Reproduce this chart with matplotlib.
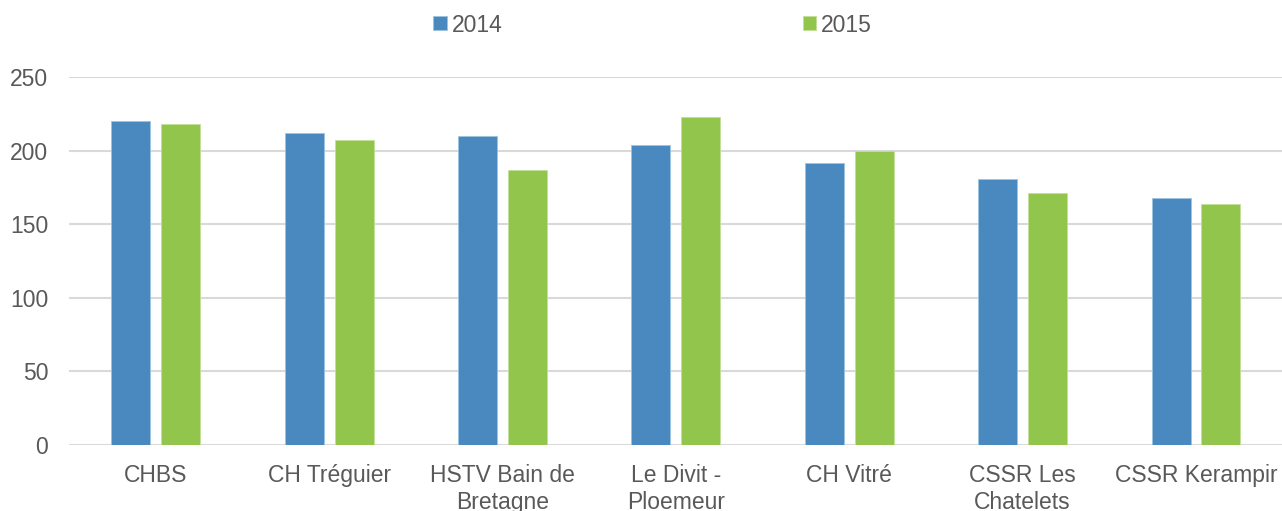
import matplotlib
matplotlib.use("Agg")
import matplotlib.pyplot as plt
import numpy as np

categories = ["CHBS", "CH Tréguier", "HSTV Bain de\nBretagne", "Le Divit -\nPloemeur",
              "CH Vitré", "CSSR Les\nChatelets", "CSSR Kerampir"]
series_names = ["2014", "2015"]
values_2014 = [220, 212, 210, 203.5, 191.5, 180.5, 167.5]
values_2015 = [218, 207, 187, 223, 200, 171, 164]
yticks = [0, 50, 100, 150, 200, 250]

blue = "#4A89BF"
green = "#92C54B"
text_col = "#595959"
grid_col = "#D9D9D9"

plt.rcParams['font.family'] = ['Liberation Sans', 'DejaVu Sans']
FS = 16.5

fig = plt.figure(figsize=(12.82, 5.11), dpi=100)
ax = fig.add_axes([69/1282, 1-445/511, (1282.7-69)/1282, (445-77)/511])

x = np.arange(len(categories))
w = 0.225
off = 0.144
ax.bar(x - off, values_2014, width=w, color=blue, edgecolor="#9CC3E0", linewidth=0.6, label=series_names[0], zorder=3)
ax.bar(x + off, values_2015, width=w, color=green, edgecolor="#C3E09A", linewidth=0.6, label=series_names[1], zorder=3)

ax.set_xlim(-0.5, len(categories) - 0.5)
ax.set_ylim(0, 250)
ax.set_yticks(yticks)
ax.set_yticklabels([str(t) for t in yticks])
ax.set_xticks(x)
ax.set_xticklabels(categories, linespacing=1.2)
ax.tick_params(axis='both', length=0, labelsize=FS, colors=text_col)
ax.tick_params(axis='y', pad=15)
ax.tick_params(axis='x', pad=14)
ax.yaxis.grid(True, color=grid_col, linewidth=1.5, zorder=0)
ax.set_axisbelow(True)
for s in ax.spines.values():
    s.set_visible(False)

leg = fig.legend(loc='center', bbox_to_anchor=(652.5/1282, 1-25/511), ncol=2, frameon=False,
                 fontsize=FS, handlelength=0.57, handleheight=0.57, handletextpad=0.22,
                 columnspacing=13.1, borderpad=0)
for t in leg.get_texts():
    t.set_color(text_col)

fig.savefig("out.png", dpi=100)
